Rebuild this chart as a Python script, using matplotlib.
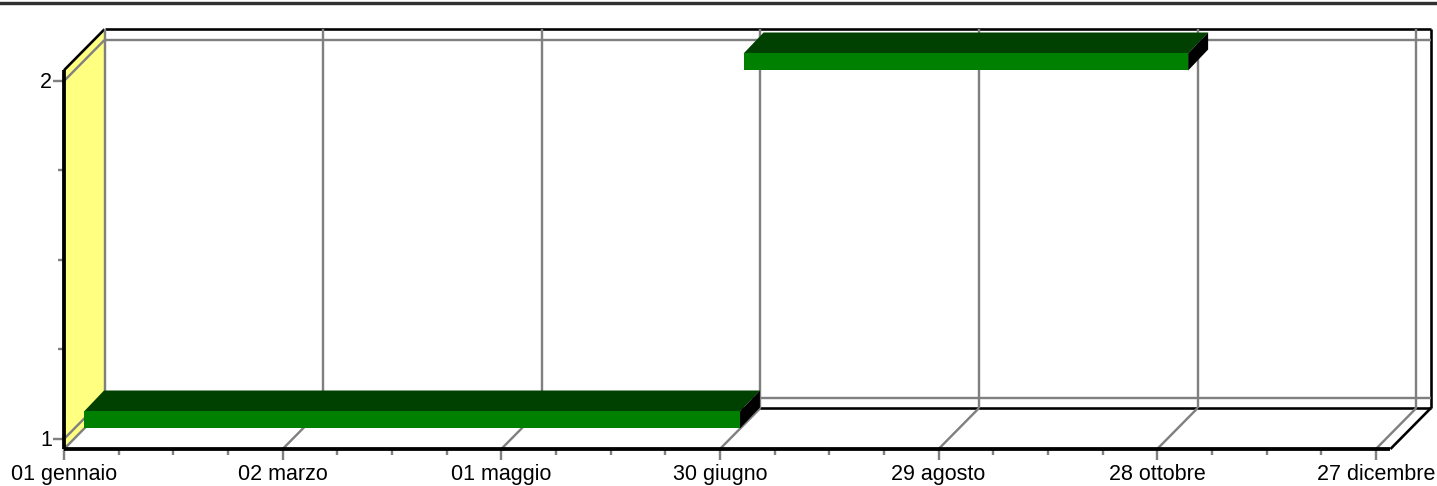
import matplotlib
matplotlib.use("Agg")
import matplotlib.pyplot as plt
from matplotlib.lines import Line2D
from matplotlib.patches import Polygon
from matplotlib.transforms import offset_copy

plt.rcParams['font.family'] = ['Liberation Sans', 'DejaVu Sans']

# --- data ---
tick_days = [0, 60, 120, 180, 240, 300, 360]
tick_labels = ['01 gennaio', '02 marzo', '01 maggio', '30 giugno',
               '29 agosto', '28 ottobre', '27 dicembre']
minor_days = [15, 30, 45, 75, 90, 105, 135, 150, 165, 195, 210, 225,
              255, 270, 285, 315, 330, 345]
value_ticks = [1, 2]
value_minor = [1.25, 1.5, 1.75]
bar_values = [1, 2]
bar_start = [0, 181]
bar_end = [180, 303]

# --- layout ---
W, H = 1437, 486
X0, PX_PER_DAY = 64.0, 3.644
Y1, PX_PER_VAL = 439.0, 358.0
DAY_MAX = 364
VAL_MIN, VAL_MAX = 0.972, 2.030
DX, DY = 40.5, 41

fig = plt.figure(figsize=(W / 100, H / 100), dpi=100)
ax = fig.add_axes([0, 0, 1, 1])
ax.set_xlim((0 - X0) / PX_PER_DAY, (W - X0) / PX_PER_DAY)
ax.set_ylim(1 + (Y1 - H) / PX_PER_VAL, 1 + Y1 / PX_PER_VAL)
ax.axis('off')


def shifted(dx, dy):
    return offset_copy(ax.transData, fig=fig, x=dx, y=dy, units='dots')


back = shifted(DX, DY)
mid = shifted(20, 19)
GRAY, BLACK = '#808080', '#000000'
px = 0.72


def seg(x0, y0, t0, x1, y1, t1, color=GRAY, lw=2.4, z=2):
    """Line between two data points, each with its own depth transform."""
    p0 = t0.transform((x0, y0))
    p1 = t1.transform((x1, y1))
    fig.add_artist(Line2D([p0[0] / W, p1[0] / W], [p0[1] / H, p1[1] / H],
                          transform=fig.transFigure, color=color,
                          lw=lw * px, zorder=z, solid_capstyle='butt'))


front = ax.transData

# left wall
pts = [front.transform((0, VAL_MIN)), front.transform((0, VAL_MAX)),
       back.transform((0, VAL_MAX)), back.transform((0, VAL_MIN))]
ax.add_patch(Polygon(pts, closed=True, transform=None, facecolor='#FFFF80',
                     edgecolor='none', zorder=1))

# back wall frame
seg(0, VAL_MAX, back, DAY_MAX, VAL_MAX, back, BLACK, 2.6, 1.5)
seg(DAY_MAX, VAL_MIN, back, DAY_MAX, VAL_MAX, back, BLACK, 2.6, 1.5)
seg(0, VAL_MIN, back, DAY_MAX, VAL_MIN, back, BLACK, 2.6, 1.5)
seg(0, VAL_MAX, front, 0, VAL_MAX, back, BLACK, 2.6, 1.5)
seg(DAY_MAX, VAL_MIN, front, DAY_MAX, VAL_MIN, back, BLACK, 2.6, 1.5)
seg(0, VAL_MIN, front, 0, VAL_MIN, back, GRAY, 2.4, 1.6)

# grid
seg(0, VAL_MIN, back, 0, VAL_MAX, back)
for d in tick_days[1:]:
    seg(d, VAL_MIN, back, d, VAL_MAX, back)
    seg(d, VAL_MIN, front, d, VAL_MIN, back)
    seg(d, VAL_MIN, front, d, VAL_MIN, shifted(0, -11))
for v in value_ticks:
    seg(0, v, front, 0, v, back)
    seg(0, v, back, DAY_MAX, v, back)
    seg(0, v, front, 0, v, shifted(-11, 0))
    ax.text(0, v, str(v), transform=shifted(-12, 1), ha='right',
            va='center_baseline', fontsize=15.5, color='#000000')
seg(0, VAL_MIN, front, 0, VAL_MIN, shifted(0, -11))
for v in value_minor:
    seg(0, v, front, 0, v, shifted(-6, 0))
for d in minor_days:
    seg(d, VAL_MIN, front, d, VAL_MIN, shifted(0, -6))

# front axis lines
seg(0, VAL_MIN, front, DAY_MAX, VAL_MIN, front, BLACK, 3.8, 3)
seg(0, VAL_MIN, front, 0, VAL_MAX, front, BLACK, 3.8, 3)

# tick labels
for d, lab in zip(tick_days, tick_labels):
    ax.text(d, VAL_MIN, lab, transform=shifted(0, -14.5), ha='center',
            va='top', fontsize=15.5, color='#000000', zorder=5)

# bars
HALF = 8.5 / PX_PER_VAL
for v, s, e in zip(bar_values, bar_start, bar_end):
    fl = mid.transform((s, v - HALF))
    fr = mid.transform((e, v - HALF))
    tr = mid.transform((e, v + HALF))
    tl = mid.transform((s, v + HALF))
    off = (20, 21)
    top = [tl, tr, tr + off, tl + off]
    side = [fr, tr, tr + off, fr + off]
    fig.add_artist(Polygon(top, closed=True, transform=None,
                           facecolor='#004000', edgecolor='none', zorder=6))
    fig.add_artist(Polygon(side, closed=True, transform=None,
                           facecolor='#000000', edgecolor='none', zorder=6))
    fig.add_artist(Polygon([fl, fr, tr, tl], closed=True, transform=None,
                           facecolor='#008000', edgecolor='none', zorder=6))

# rule at the top of the picture
fig.add_artist(Line2D([0, 1], [1 - 2.8 / H, 1 - 2.8 / H],
                      transform=fig.transFigure, color='#303030',
                      lw=3.4 * px, zorder=7))

fig.savefig('out.png', dpi=100)
